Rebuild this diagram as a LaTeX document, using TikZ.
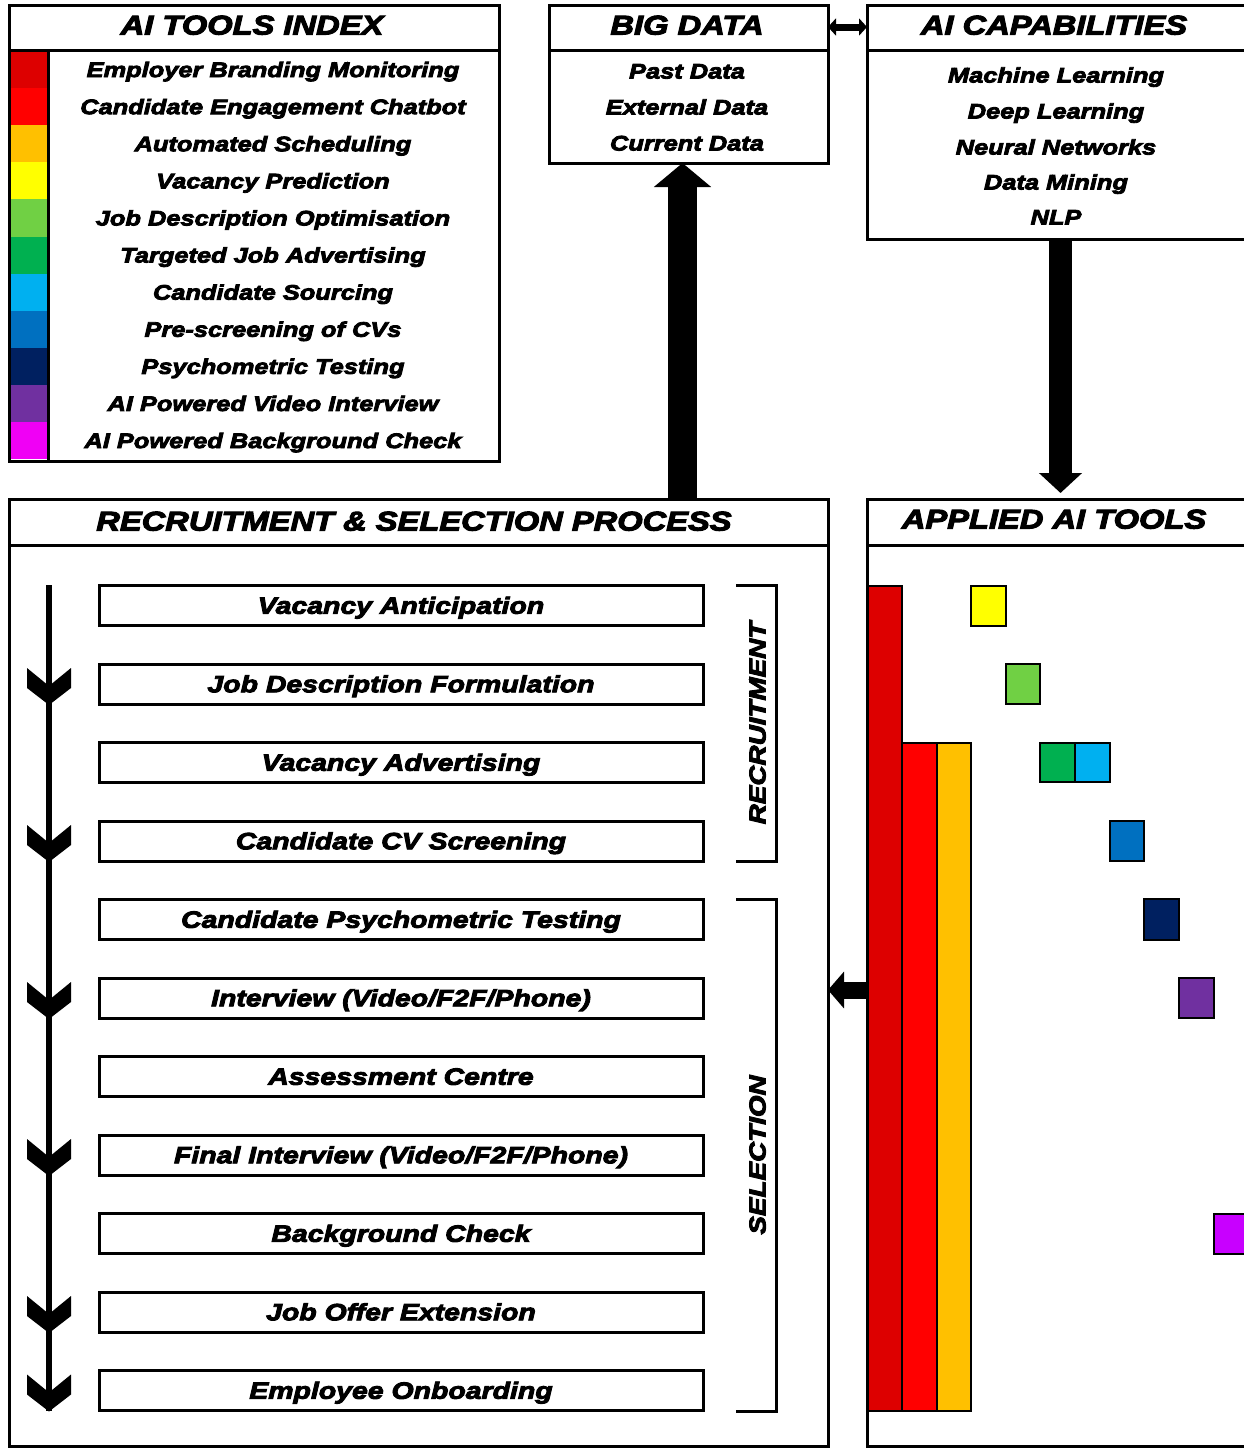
\documentclass[tikz,border=0pt]{standalone}
\usepackage{fontspec}
\usetikzlibrary{arrows.meta,calc}
\newfontfamily\blk{Liberation Sans Bold Italic}[FakeStretch=1.21,RawFeature={embolden=4}]
\definecolor{cA}{RGB}{221,0,0}
\definecolor{cB}{RGB}{255,0,0}
\definecolor{cC}{RGB}{255,192,0}
\definecolor{cD}{RGB}{255,255,0}
\definecolor{cE}{RGB}{112,208,68}
\definecolor{cF}{RGB}{0,176,80}
\definecolor{cG}{RGB}{0,176,240}
\definecolor{cH}{RGB}{0,112,192}
\definecolor{cI}{RGB}{0,32,96}
\definecolor{cJ}{RGB}{112,48,160}
\definecolor{cK}{RGB}{240,0,245}
\definecolor{cL}{RGB}{200,0,255}
\begin{document}
\begin{tikzpicture}[x=1pt,y=-1pt,
  box/.style={draw, line width=3pt, rectangle, inner sep=0pt, outer sep=0pt, anchor=north west},
  stepbox/.style={draw, line width=3pt, rectangle, inner sep=0pt, outer sep=0pt, minimum width=604pt, minimum height=40pt,
     font=\blk\fontsize{23.5}{26}\selectfont, text height=16.5pt, text depth=0pt},
  itm/.style={inner sep=0pt, font=\blk\fontsize{21}{24}\selectfont, text height=15pt, text depth=0pt},
  hdr/.style={inner sep=0pt, font=\blk\fontsize{27}{30}\selectfont, text height=19pt, text depth=0pt},
  side/.style={inner sep=0pt, font=\blk\fontsize{23}{26}\selectfont, text height=17pt, text depth=0pt, rotate=90},
  bar/.style={draw=black, line width=1.5pt},
  chev/.pic={\fill[black] (-22,-36) -- (0,-18) -- (22,-36) -- (22,-16) -- (0,1) -- (-22,-16) -- cycle;}
]
\clip (0,0) rectangle (1244,1448);
\fill[white] (0,0) rectangle (1244,1448);

% ---------- AI TOOLS INDEX ----------
\foreach \c [count=\i] in {cA,cB,cC,cD,cE,cF,cG,cH,cI,cJ,cK}
  \fill[\c] (9,{51+37.1*(\i-1)}) rectangle (48,{51+37.1*\i});
\node[box, minimum width=490pt, minimum height=456pt] (idx) at (9,5) {};
\draw[line width=3pt] (9,50) -- (499,50);
\draw[line width=3pt] (48,50) -- (48,461);
\node[hdr] (idxh) at (252,25) {AI TOOLS INDEX};
\foreach \t [count=\i] in {Employer Branding Monitoring, Candidate Engagement Chatbot, Automated Scheduling,
  Vacancy Prediction, Job Description Optimisation, Targeted Job Advertising, Candidate Sourcing,
  Pre-screening of CVs, Psychometric Testing, AI Powered Video Interview, AI Powered Background Check}
  \node[itm] (ix\i) at (273,{51+37.1*(\i-0.5)}) {\t};

% ---------- BIG DATA ----------
\node[box, minimum width=279pt, minimum height=158pt] (bd) at (549,5) {};
\draw[line width=3pt] (549,50) -- (828,50);
\node[hdr] (bdh) at (687,25) {BIG DATA};
\node[itm] (bd1) at (687,71) {Past Data};
\node[itm] (bd2) at (687,107) {External Data};
\node[itm] (bd3) at (687,143) {Current Data};

% ---------- AI CAPABILITIES ----------
\node[box, minimum width=390pt, minimum height=234pt] (cap) at (867,5) {};
\draw[line width=3pt] (867,50) -- (1257,50);
\node[hdr] (caph) at (1054,25) {AI CAPABILITIES};
\node[itm] (cp1) at (1056,75) {Machine Learning};
\node[itm] (cp2) at (1056,111) {Deep Learning};
\node[itm] (cp3) at (1056,147) {Neural Networks};
\node[itm] (cp4) at (1056,182) {Data Mining};
\node[itm] (cp5) at (1056,217) {NLP};

% ---------- RECRUITMENT & SELECTION PROCESS ----------
\node[box, minimum width=819pt, minimum height=947pt] (rec) at (9,499) {};
\draw[line width=3pt] (9,545) -- (828,545);
\node[hdr] (rech) at (414,521) {RECRUITMENT \& SELECTION PROCESS};

% ---------- APPLIED AI TOOLS ----------
\node[box, minimum width=390pt, minimum height=947pt] (app) at (867,499) {};
\draw[line width=3pt] (867,545) -- (1257,545);
\node[hdr] (apph) at (1054,519) {APPLIED AI TOOLS};

% ---------- steps ----------
\foreach \t [count=\i] in {Vacancy Anticipation, Job Description Formulation, Vacancy Advertising,
  Candidate CV Screening, Candidate Psychometric Testing, Interview (Video/F2F/Phone), Assessment Centre,
  Final Interview (Video/F2F/Phone), Background Check, Job Offer Extension, Employee Onboarding}
  \node[stepbox] (s\i) at (401,{605.5+78.5*(\i-1)}) {\t};

% flow line with chevrons
\coordinate (fa) at (49,585);
\coordinate (fb) at (49,1411);
\draw[line width=5.5pt] (fa) -- (fb);
\foreach \i in {2,4,6,8,10,11}
  \pic at (fa |- s\i.south) {chev};

% brackets
\draw[line width=3pt] (736,585) -- (776,585) -- (776,861) -- (736,861);
\draw[line width=3pt] (736,899) -- (776,899) -- (776,1411) -- (736,1411);
\node[side] (rlab) at (757,723) {RECRUITMENT};
\node[side] (slab) at (757,1155) {SELECTION};

% ---------- applied tool bars ----------
\draw[bar, fill=cA] (868,586) rectangle (902,1411);
\draw[bar, fill=cB] (902,743) rectangle (937,1411);
\draw[bar, fill=cC] (937,743) rectangle (971,1411);
\draw[bar, fill=cD] (971,586) rectangle (1006,626);
\draw[bar, fill=cE] (1006,664) rectangle (1040,704);
\draw[bar, fill=cF] (1040,743) rectangle (1075,782);
\draw[bar, fill=cG] (1075,743) rectangle (1110,782);
\draw[bar, fill=cH] (1110,821) rectangle (1144,861);
\draw[bar, fill=cI] (1144,899) rectangle (1179,940);
\draw[bar, fill=cJ] (1179,978) rectangle (1214,1018);
\draw[bar, fill=cL] (1214,1214) rectangle (1250,1254);
\draw[line width=3pt] (867,499) -- (867,1448);

% ---------- connectors ----------
\draw[line width=29pt, -{Triangle[width=56pt,length=24pt]}]
  ([xshift=-6pt]bd.south |- rec.north) -- ([xshift=-6pt]bd.south);
\draw[line width=23pt, -{Triangle[width=42pt,length=20pt]}]
  ([xshift=-1.5pt]cap.south) -- ([xshift=-1.5pt,yshift=6pt]cap.south |- app.north);
\draw[line width=7pt, {Triangle[width=17pt,length=8pt]}-{Triangle[width=17pt,length=8pt]}]
  ([yshift=-22pt]bd.north east) -- ([yshift=-22pt]cap.north west);
\coordinate (la) at (867,990);
\draw[line width=17pt, -{Triangle[width=36pt,length=16pt]}] (la) -- (rec.east |- la);
\end{tikzpicture}
\end{document}
